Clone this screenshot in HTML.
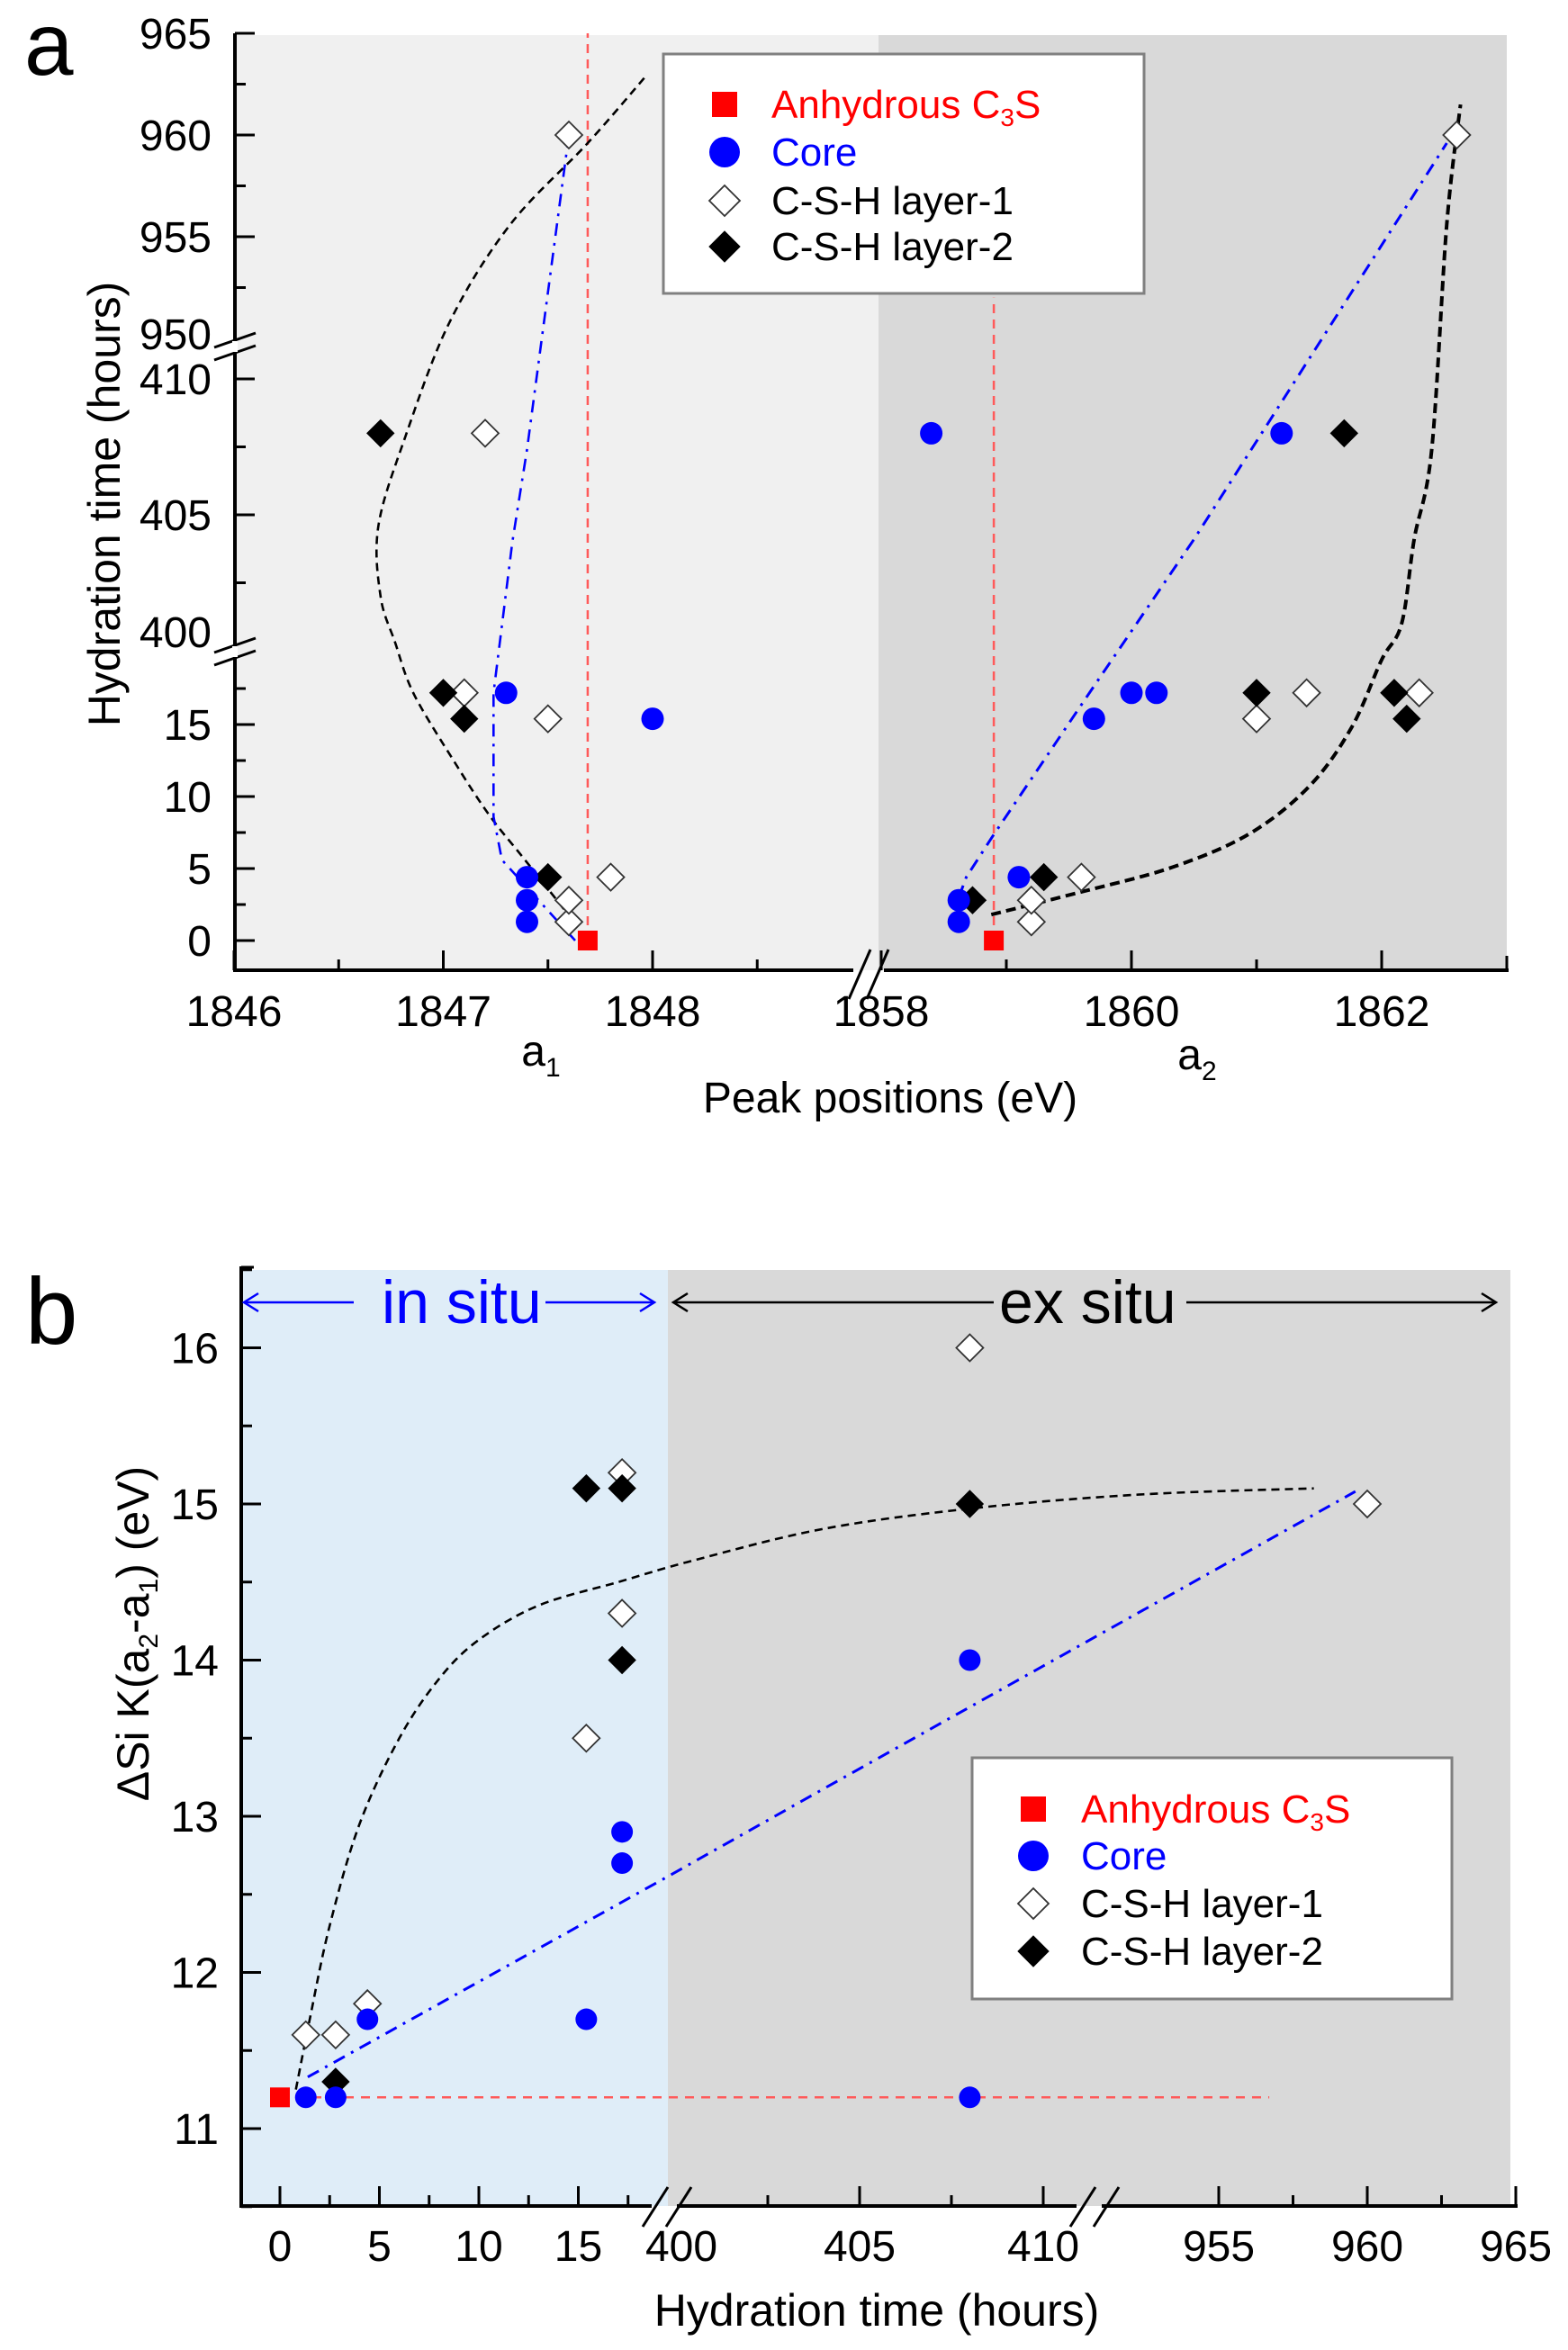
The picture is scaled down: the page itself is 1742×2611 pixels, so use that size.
<!DOCTYPE html>
<html><head><meta charset="utf-8"><title>Si K-edge peak positions vs hydration time</title>
<style>
html,body{margin:0;padding:0;background:#fff;}
svg{display:block;font-family:"Liberation Sans",Arial,sans-serif;}
</style></head>
<body>
<svg id="chart" xmlns="http://www.w3.org/2000/svg" width="1742" height="2611" viewBox="0 0 1742 2611"></svg>
<script>
// ---------- Panel a data ----------
const aAnhydX=[1847.69,1858.9];
const aAnhydY=[0,0];
const aCoreX=[1847.4,1847.4,1847.4,1847.3,1848.0,1858.62,1858.62,1859.1,1859.7,1860.0,1860.2,1858.4,1861.2];
const aCoreY=[1.3,2.8,4.4,17.2,15.4,1.3,2.8,4.4,15.4,17.2,17.2,408,408];
const aL1X=[1847.6,1847.6,1847.8,1847.1,1847.5,1847.2,1847.6,1859.2,1859.2,1859.6,1861.0,1861.4,1862.3,1862.6];
const aL1Y=[1.3,2.8,4.4,17.2,15.4,408,960,1.3,2.8,4.4,15.4,17.2,17.2,960];
const aL2X=[1847.5,1847.0,1847.1,1846.7,1858.73,1859.3,1861.0,1862.1,1862.2,1861.7];
const aL2Y=[4.4,17.2,15.4,408,2.8,4.4,17.2,17.2,15.4,408];
const aFitBlackLX=[1847.96,1847.69,1847.32,1847.03,1846.82,1846.69,1846.70,1846.77,1846.86,1847.06,1847.22,1847.39,1847.63];
const aFitBlackLY=[962.8,959.6,955.6,950.8,407.9,404.6,402.0,400.3,17.1,12.25,8.7,5.6,1.2];
const aFitBlueLX=[1847.60,1847.40,1847.33,1847.24,1847.24,1847.28,1847.63];
const aFitBlueLY=[960,407.4,404.0,17.2,8.6,5.6,0];
const aFitBlackRX=[1858.88,1859.61,1860.33,1860.94,1861.42,1861.76,1862.0,1862.16,1862.26,1862.40,1862.52,1862.63];
const aFitBlackRY=[1.8,3.4,5.1,7.4,10.7,14.8,19.5,401.0,404.1,407.4,955.6,961.5];
const aFitBlueRX=[1858.62,1858.68,1858.88,1859.68,1860.50,1862.52];
const aFitBlueRY=[3.0,4.4,7.1,17.4,404.1,959.6];
const aYMajor=[0,5,10,15,405,410,955,960,965];
const aYMajorLabels=["0","5","10","15","405","410","955","960","965"];
const aYBreakLabels=["400","950"];
const aYMinor=[2.5,7.5,12.5,17.5,402.5,407.5,952.5,957.5,962.5];
const aXMajor=[1846,1847,1848,1858,1860,1862];
const aXMajorLabels=["1846","1847","1848","1858","1860","1862"];
const aXMinor=[1846.5,1847.5,1848.5,1859,1861,1863];

// ---------- Panel b data ----------
const bAnhydX=[0];
const bAnhydY=[11.2];
const bCoreX=[1.3,2.8,4.4,15.4,17.2,17.2,408,408];
const bCoreY=[11.2,11.2,11.7,11.7,12.9,12.7,11.2,14.0];
const bL1X=[1.3,2.8,4.4,15.4,17.2,17.2,408,960];
const bL1Y=[11.6,11.6,11.8,13.5,15.2,14.3,16.0,15.0];
const bL2X=[2.8,15.4,17.2,17.2,408];
const bL2Y=[11.3,15.1,15.1,14.0,15.0];
const bFitBlackX=[0.8,1.5,2.5,4.0,6.0,8.0,10.0,13.0,17.0,400.5,404,408,952.3,958.2];
const bFitBlackY=[11.25,11.7,12.3,12.95,13.5,13.88,14.13,14.35,14.5,14.64,14.84,14.97,15.06,15.1];
const bFitBlueX=[1.4,19.3,404.2,959.6];
const bFitBlueY=[11.33,12.6,13.2,15.08];
const bRefLineX=[0,956.7];
const bRefLineY=[11.2,11.2];
const bYMajor=[11,12,13,14,15,16];
const bYMajorLabels=["11","12","13","14","15","16"];
const bYMinor=[10.5,11.5,12.5,13.5,14.5,15.5,16.5];
const bXMajor=[0,5,10,15,400,405,410,955,960,965];
const bXMajorLabels=["0","5","10","15","400","405","410","955","960","965"];
const bXMinor=[2.5,7.5,12.5,17.5,402.5,407.5,957.5,962.5];

// ---------- axis functions ----------
function xA(ev){return ev<1853 ? 260+(ev-1846)*232.5 : 979+(ev-1858)*139;}
function yA(h){return h<100 ? 1045-16*h : (h<500 ? 421+(410-h)*30.2 : 150+(960-h)*22.6);}
function xB(h){return h<100 ? 311+22.1*h : (h<500 ? 751+(h-400)*40.8 : 1519+(h-960)*33);}
function yB(v){return 2365-(v-11)*173.5;}

const NS="http://www.w3.org/2000/svg";
const svg=document.getElementById('chart');
function mk(tag,attrs,parent){
  const e=document.createElementNS(NS,tag);
  for(const k in attrs) e.setAttribute(k,attrs[k]);
  (parent||svg).appendChild(e);
  return e;
}
function grp(parent){return mk('g',{},parent);}
function smoothPath(pts){
  let d='M'+pts[0][0].toFixed(1)+' '+pts[0][1].toFixed(1);
  for(let i=0;i<pts.length-1;i++){
    const p0=pts[i-1]||pts[i],p1=pts[i],p2=pts[i+1],p3=pts[i+2]||pts[i+1];
    const c1x=p1[0]+(p2[0]-p0[0])/6,c1y=p1[1]+(p2[1]-p0[1])/6;
    const c2x=p2[0]-(p3[0]-p1[0])/6,c2y=p2[1]-(p3[1]-p1[1])/6;
    d+=' C'+c1x.toFixed(1)+' '+c1y.toFixed(1)+' '+c2x.toFixed(1)+' '+c2y.toFixed(1)+' '+p2[0].toFixed(1)+' '+p2[1].toFixed(1);
  }
  return d;
}
function linePath(pts){return 'M'+pts.map(p=>p[0].toFixed(1)+' '+p[1].toFixed(1)).join(' L');}
function square(g,cx,cy,s){return mk('rect',{x:cx-s/2,y:cy-s/2,width:s,height:s,fill:'#ff0000'},g);}
function circ(g,cx,cy,r){return mk('circle',{cx:cx,cy:cy,r:r,fill:'#0000ff'},g);}
function diamond(g,cx,cy,h,filled){
  return mk('polygon',{points:(cx)+','+(cy-h)+' '+(cx+h)+','+cy+' '+cx+','+(cy+h)+' '+(cx-h)+','+cy,
    fill:filled?'#000':'#fff',stroke:filled?'#000':'#333','stroke-width':filled?1:1.8},g);
}
function txt(g,x,y,s,size,anchor,fill){
  const t=mk('text',{x:x,y:y,'font-size':size,'text-anchor':anchor||'start',fill:fill||'#000'},g);
  t.textContent=s;return t;
}

// ================= PANEL A =================
const pa=grp();


let e;
e=mk('rect',{x:261,y:39,width:715,height:1039,fill:'#f0f0f0'},pa);


e=mk('rect',{x:976,y:39,width:698,height:1039,fill:'#d9d9d9'},pa);



e=mk('line',{x1:xA(aAnhydX[0]),y1:yA(0),x2:xA(aAnhydX[0]),y2:37,stroke:'#ff5a5a','stroke-width':2.5,'stroke-dasharray':'10 7'},pa);


e=mk('line',{x1:xA(aAnhydX[1]),y1:yA(0),x2:xA(aAnhydX[1]),y2:yA(952),stroke:'#ff5a5a','stroke-width':2.5,'stroke-dasharray':'10 7'},pa);



e=mk('path',{d:smoothPath(aFitBlackLX.map((v,i)=>[xA(v),yA(aFitBlackLY[i])])),fill:'none',stroke:'#000','stroke-width':2.6,'stroke-dasharray':'9 6'},pa);


e=mk('path',{d:linePath(aFitBlueLX.map((v,i)=>[xA(v),yA(aFitBlueLY[i])])),fill:'none',stroke:'#0000ff','stroke-width':2.6,'stroke-dasharray':'14 8 3 8'},pa);


e=mk('path',{d:smoothPath(aFitBlackRX.map((v,i)=>[xA(v),yA(aFitBlackRY[i])])),fill:'none',stroke:'#000','stroke-width':4,'stroke-dasharray':'11 6'},pa);


e=mk('path',{d:linePath(aFitBlueRX.map((v,i)=>[xA(v),yA(aFitBlueRY[i])])),fill:'none',stroke:'#0000ff','stroke-width':3,'stroke-dasharray':'14 8 3 8'},pa);



const paPts=grp(pa);


aL1X.forEach((v,i)=>{const m=diamond(paPts,xA(v),yA(aL1Y[i]),15,false);
  
  });
aL2X.forEach((v,i)=>{const m=diamond(paPts,xA(v),yA(aL2Y[i]),15,true);
  
  });
aCoreX.forEach((v,i)=>{const m=circ(paPts,xA(v),yA(aCoreY[i]),12.5);
  
  });
aAnhydX.forEach((v,i)=>{const m=square(paPts,xA(v),yA(aAnhydY[i]),22);
  
  });

const paAx=grp(pa);


mk('line',{x1:261,y1:37,x2:261,y2:1079,stroke:'#000','stroke-width':4},paAx);
mk('line',{x1:259,y1:1078,x2:948,y2:1078,stroke:'#000','stroke-width':4},paAx);
mk('line',{x1:982,y1:1078,x2:1676,y2:1078,stroke:'#000','stroke-width':4},paAx);
mk('line',{x1:1674,y1:1078,x2:1674,y2:1062,stroke:'#000','stroke-width':3},paAx);
aYMajor.forEach((v,i)=>{
  mk('line',{x1:261,y1:yA(v),x2:283,y2:yA(v),stroke:'#000','stroke-width':3},paAx);
  const t=txt(paAx,235,yA(v)+17,aYMajorLabels[i],48,'end');
  
  
});
aYMinor.forEach(v=>mk('line',{x1:261,y1:yA(v),x2:273,y2:yA(v),stroke:'#000','stroke-width':3},paAx));
e=txt(paAx,235,719,aYBreakLabels[0],48,'end');


e=txt(paAx,235,388,aYBreakLabels[1],48,'end');


[[378,392],[717,731]].forEach(b=>{
  b.forEach(y=>mk('line',{x1:238,y1:y+8,x2:284,y2:y-8,stroke:'#000','stroke-width':3},paAx));
  mk('rect',{x:258,y:b[0]+1,width:6,height:b[1]-b[0]-2,fill:'#fff'},paAx);
});
aXMajor.forEach((v,i)=>{
  mk('line',{x1:xA(v),y1:1078,x2:xA(v),y2:1056,stroke:'#000','stroke-width':3},paAx);
  const t=txt(paAx,xA(v),1140,aXMajorLabels[i],48,'middle');
  
  
});
aXMinor.forEach(v=>mk('line',{x1:xA(v),y1:1078,x2:xA(v),y2:1066,stroke:'#000','stroke-width':3},paAx));
[955,975].forEach(x=>mk('line',{x1:x-12,y1:1110,x2:x+12,y2:1055,stroke:'#000','stroke-width':3},paAx));

e=txt(pa,27,83,'a',98,'start');


e=mk('text',{x:0,y:0,'font-size':50,'text-anchor':'middle',transform:'translate(133,560) rotate(-90)'},pa);
e.textContent='Hydration time (hours)';


e=mk('text',{x:601,y:1184,'font-size':48,'text-anchor':'middle'},pa);
e.innerHTML='a<tspan font-size="30" dy="12">1</tspan>';


e=mk('text',{x:1330,y:1188,'font-size':48,'text-anchor':'middle'},pa);
e.innerHTML='a<tspan font-size="30" dy="12">2</tspan>';


e=txt(pa,989,1236,'Peak positions (eV)',48,'middle');



function legend(parent,x,y,w,h,mx,tx,rows,name){
  const g=grp(parent);
  
  
  mk('rect',{x:x,y:y,width:w,height:h,fill:'#fff',stroke:'#808080','stroke-width':3},g);
  const labels=['Anhydrous C','Core','C-S-H layer-1','C-S-H layer-2'];
  rows.forEach((ry,i)=>{
    if(i===0) square(g,mx,ry,28);
    else if(i===1) circ(g,mx,ry,17);
    else diamond(g,mx,ry,17,i===3);
    const t=mk('text',{x:tx,y:ry+15,'font-size':44,fill:i===0?'#ff0000':(i===1?'#0000ff':'#000')},g);
    if(i===0) t.innerHTML='Anhydrous C<tspan font-size="28" dy="9">3</tspan><tspan dy="-9">S</tspan>';
    else t.textContent=labels[i];
    
    
  });
}
legend(pa,737,60,534,266,805,857,[116,169,223,274],'legend-a');

// ================= PANEL B =================
const pb=grp();


e=mk('rect',{x:268,y:1411,width:474,height:1040,fill:'#dfedf8'},pb);


e=mk('rect',{x:742,y:1411,width:936,height:1040,fill:'#d9d9d9'},pb);



e=mk('path',{d:linePath(bRefLineX.map((v,i)=>[Math.max(xB(v),268),yB(bRefLineY[i])])),stroke:'#ff5a5a','stroke-width':2.5,'stroke-dasharray':'10 8',fill:'none'},pb);


e=mk('path',{d:smoothPath(bFitBlackX.map((v,i)=>[xB(v),yB(bFitBlackY[i])])),fill:'none',stroke:'#000','stroke-width':2.6,'stroke-dasharray':'9 6'},pb);


e=mk('path',{d:linePath(bFitBlueX.map((v,i)=>[xB(v),yB(bFitBlueY[i])])),fill:'none',stroke:'#0000ff','stroke-width':3,'stroke-dasharray':'14 8 3 8'},pb);



const pbPts=grp(pb);


bL1X.forEach((v,i)=>{const m=diamond(pbPts,xB(v),yB(bL1Y[i]),15,false);
  
  });
bL2X.forEach((v,i)=>{const m=diamond(pbPts,xB(v),yB(bL2Y[i]),15,true);
  
  });
bCoreX.forEach((v,i)=>{const m=circ(pbPts,xB(v),yB(bCoreY[i]),12);
  
  });
bAnhydX.forEach((v,i)=>{const m=square(pbPts,xB(v),yB(bAnhydY[i]),22);
  
  });

const pbAx=grp(pb);


mk('line',{x1:268,y1:1407,x2:268,y2:2453,stroke:'#000','stroke-width':4},pbAx);
mk('line',{x1:266,y1:2451,x2:724,y2:2451,stroke:'#000','stroke-width':4},pbAx);
mk('line',{x1:752,y1:2451,x2:1196,y2:2451,stroke:'#000','stroke-width':4},pbAx);
mk('line',{x1:1224,y1:2451,x2:1686,y2:2451,stroke:'#000','stroke-width':4},pbAx);
mk('line',{x1:1684,y1:2451,x2:1684,y2:2430,stroke:'#000','stroke-width':3},pbAx);
mk('line',{x1:268,y1:1408,x2:282,y2:1408,stroke:'#000','stroke-width':3},pbAx);
bYMajor.forEach((v,i)=>{
  mk('line',{x1:268,y1:yB(v),x2:290,y2:yB(v),stroke:'#000','stroke-width':3},pbAx);
  const t=txt(pbAx,243,yB(v)+17,bYMajorLabels[i],48,'end');
  
  
});
bYMinor.forEach(v=>mk('line',{x1:268,y1:yB(v),x2:280,y2:yB(v),stroke:'#000','stroke-width':3},pbAx));
bXMajor.forEach((v,i)=>{
  if(v!==400) mk('line',{x1:xB(v),y1:2451,x2:xB(v),y2:2429,stroke:'#000','stroke-width':3},pbAx);
  const t=txt(pbAx,xB(v)+(v===400?6:0),2512,bXMajorLabels[i],48,'middle');
  
  
});
bXMinor.forEach(v=>mk('line',{x1:xB(v),y1:2451,x2:xB(v),y2:2439,stroke:'#000','stroke-width':3},pbAx));
[[728,754],[1203,1229]].forEach(b=>b.forEach(x=>mk('line',{x1:x-14,y1:2474,x2:x+14,y2:2430,stroke:'#000','stroke-width':3},pbAx)));

e=txt(pb,28,1493,'b',105,'start');


e=mk('text',{x:0,y:0,'font-size':50,'text-anchor':'middle',transform:'translate(165,1815) rotate(-90)'},pb);
e.innerHTML='ΔSi K(a<tspan font-size="30" dy="10">2</tspan><tspan dy="-10">-a</tspan><tspan font-size="30" dy="10">1</tspan><tspan dy="-10">) (eV)</tspan>';


e=txt(pb,974,2584,'Hydration time (hours)',50,'middle');



const ann=grp(pb);


function arrow(g,x1,x2,y,color,head){
  mk('line',{x1:x1,y1:y,x2:x2,y2:y,stroke:color,'stroke-width':2.5},g);
  const hx=head==='left'?x1:x2, d=head==='left'?1:-1;
  mk('path',{d:'M'+(hx+16*d)+' '+(y-10)+' L'+hx+' '+y+' L'+(hx+16*d)+' '+(y+10),fill:'none',stroke:color,'stroke-width':2.5},g);
}
arrow(ann,271,393,1447,'#0000ff','left');
arrow(ann,606,727,1447,'#0000ff','right');
arrow(ann,748,1104,1447,'#000','left');
arrow(ann,1318,1662,1447,'#000','right');
e=txt(ann,424,1470,'in situ',68,'start','#0000ff');


e=txt(ann,1110,1470,'ex situ',68,'start','#000');



legend(pb,1080,1953,533,268,1148,1201,[2010,2062,2115,2168],'legend-b');
</script>
</body></html>
